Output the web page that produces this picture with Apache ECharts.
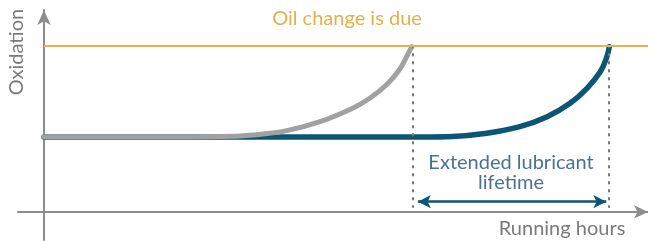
<!DOCTYPE html>
<html>
<head>
<meta charset="utf-8">
<script src="https://cdn.jsdelivr.net/npm/echarts@6/dist/echarts.min.js"></script>
<style>html,body{margin:0;padding:0;background:#fff;}#c{width:648px;height:241px;}</style>
</head>
<body>
<div id="c"></div>
<script>
// Data (x = running hours, relative units; y = oxidation, relative units)
const greyX = [0, 20, 29.1, 34.6, 40.2, 45.7, 51.2, 54.0, 56.8, 58.9, 60.1, 60.9];
const greyY = [45.3, 45.3, 45.4, 46.4, 49.0, 54.4, 62.7, 68.7, 77.0, 86.0, 94.0, 99.6];
const blueX = [0, 62.3, 67.7, 73.3, 78.8, 83.3, 87.1, 89.9, 92.1, 93.1, 93.6];
const blueY = [45.2, 45.2, 45.5, 47.4, 51.4, 57.4, 65.5, 74.5, 84.5, 92.5, 99.6];
const oilChangeLevel = 100;
const greyDue = 61.0;
const blueDue = 93.5;
const dottedBottom = 3;
const arrowLevel = 6.2;
const arrowStart = 61.9;
const arrowEnd = 93.1;
const labels = {
  due: 'Oil change is due',
  extended1: 'Extended lubricant',
  extended2: 'lifetime',
  xName: 'Running hours',
  yName: 'Oxidation'
};

const zip = (xs, ys) => xs.map((x, i) => [x, ys[i]]);
const axisGrey = '#8d8d8d';
const font = 'Lato, "Open Sans", sans-serif';

const chart = echarts.init(document.getElementById('c'), null, {renderer: 'canvas'});
chart.setOption({
  animation: false,
  grid: {left: 18, right: 0, top: 10, bottom: 1, containLabel: false},
  xAxis: {
    type: 'value', min: -4.3, max: 100,
    axisLine: {show: true, onZero: true, symbol: ['none', 'arrow'], symbolSize: [10, 14],
      lineStyle: {color: axisGrey, width: 2}},
    axisTick: {show: false}, axisLabel: {show: false}, splitLine: {show: false}
  },
  yAxis: {
    type: 'value', min: -16.9, max: 121.7,
    axisLine: {show: true, onZero: true, symbol: ['none', 'arrow'], symbolSize: [10, 15],
      lineStyle: {color: axisGrey, width: 2}},
    axisTick: {show: false}, axisLabel: {show: false}, splitLine: {show: false}
  },
  series: [
    {
      type: 'line', name: 'extended', data: zip(blueX, blueY), smooth: 0.4,
      showSymbol: false, lineStyle: {color: '#0b5575', width: 5.5, cap: 'round', join: 'round'}, z: 3,
      markLine: {
        silent: true, symbol: ['none', 'none'], label: {show: false},
        lineStyle: {color: '#777', width: 2, type: [1.5, 6.5], cap: 'round'},
        data: [
          [{coord: [greyDue, oilChangeLevel]}, {coord: [greyDue, dottedBottom]}],
          [{coord: [blueDue, oilChangeLevel]}, {coord: [blueDue, dottedBottom]}]
        ]
      }
    },
    {
      type: 'line', name: 'standard', data: zip(greyX, greyY), smooth: 0.4,
      showSymbol: false, lineStyle: {color: '#a1a1a1', width: 5, cap: 'round', join: 'round'}, z: 4,
      markLine: {
        silent: true, symbol: ['arrow', 'arrow'], symbolSize: [10, 13], label: {show: false},
        lineStyle: {color: '#0b5575', width: 2.5, type: 'solid'},
        data: [[{coord: [arrowStart, arrowLevel]}, {coord: [arrowEnd, arrowLevel]}]]
      }
    },
    {
      type: 'line', name: 'due', data: [], z: 2,
      markLine: {
        silent: true, symbol: ['none', 'none'], label: {show: false},
        lineStyle: {color: '#e3b352', width: 2, type: 'solid'},
        data: [[{coord: [0, oilChangeLevel]}, {coord: [100, oilChangeLevel]}]]
      }
    }
  ],
  graphic: [
    {type: 'text', x: 347, y: 19, style: {text: labels.due, fill: '#e2b04e', font: '20px ' + font, textAlign: 'center', textVerticalAlign: 'middle'}},
    {type: 'text', x: 511, y: 163, style: {text: labels.extended1, fill: '#4b7292', font: '20px ' + font, textAlign: 'center', textVerticalAlign: 'middle'}},
    {type: 'text', x: 511, y: 183, style: {text: labels.extended2, fill: '#4b7292', font: '20px ' + font, textAlign: 'center', textVerticalAlign: 'middle'}},
    {type: 'text', x: 562, y: 229, style: {text: labels.xName, fill: '#7a7a7a', font: '20px ' + font, textAlign: 'center', textVerticalAlign: 'middle'}},
    {type: 'text', x: 17, y: 52, rotation: Math.PI / 2, style: {text: labels.yName, fill: '#7a7a7a', font: '20px ' + font, textAlign: 'center', textVerticalAlign: 'middle'}}
  ]
});
</script>
</body>
</html>
